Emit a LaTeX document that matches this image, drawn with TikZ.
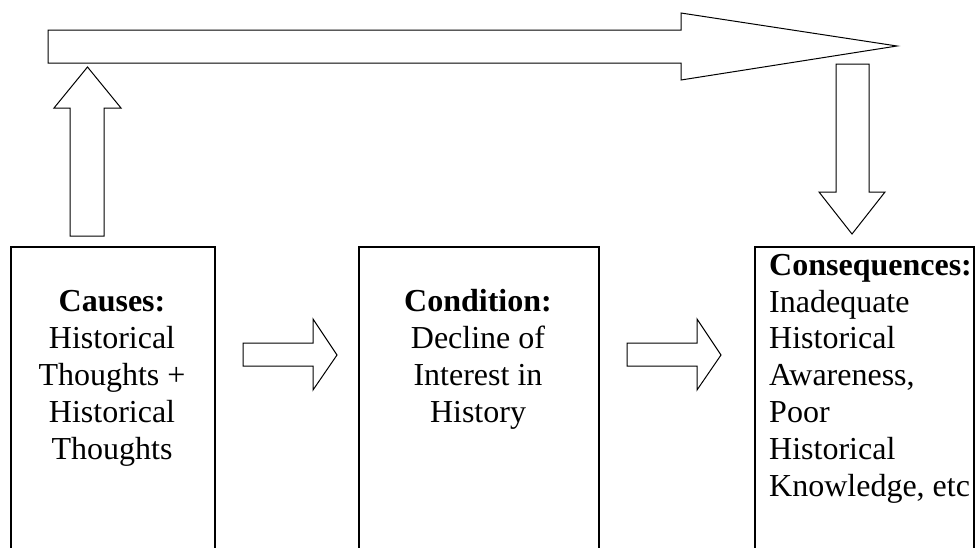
\documentclass[tikz,border=0pt]{standalone}
\usepackage{fontspec}
\setmainfont{Liberation Serif}
\begin{document}
\begin{tikzpicture}[x=1pt,y=-1pt,
  box/.style={draw, line width=1.5pt, inner sep=0pt, anchor=north west},
  blockarrow/.style={draw, line width=1pt, line join=miter, fill=white},
  txt/.style={inner sep=0pt, font=\fontsize{32}{36.8}\selectfont}]
\useasboundingbox (0,0) rectangle (980,547);
\clip (0,0) rectangle (980,547);
\fill[white] (0,0) rectangle (980,547);
% boxes
\node[box, minimum width=204pt, minimum height=320pt] (causesbox) at (10,246) {};
\node[box, minimum width=240pt, minimum height=320pt] (conditionbox) at (358,246) {};
\node[box, minimum width=219pt, minimum height=320pt] (consbox) at (754,246) {};
% texts (anchored at the baseline of their last line)
\node[txt, align=center, anchor=base] (causes) at (112,459)
  {\textbf{Causes:}\\Historical\\Thoughts +\\Historical\\Thoughts};
\node[txt, align=center, anchor=base] (condition) at (478,422)
  {\textbf{Condition:}\\Decline of\\Interest in\\History};
\node[txt, align=left, anchor=base west] (cons) at (769,496)
  {\textbf{Consequences:}\\Inadequate\\Historical\\Awareness,\\Poor\\Historical\\Knowledge, etc};
% block arrows
\draw[blockarrow] (48,30) -- (681,30) -- (681,13) -- (897,46) -- (681,80) -- (681,63) -- (48,63) -- cycle;
\draw[blockarrow] (70,236) -- (70,108) -- (54,108) -- (87.5,67) -- (121,108) -- (104,108) -- (104,236) -- cycle;
\draw[blockarrow] (836,64) -- (869,64) -- (869,192) -- (885,192) -- (852,234) -- (819,192) -- (836,192) -- cycle;
\draw[blockarrow] (243,343) -- (313,343) -- (313,319) -- (337,355) -- (313,390) -- (313,366) -- (243,366) -- cycle;
\draw[blockarrow] (627,343) -- (697,343) -- (697,319) -- (721,355) -- (697,390) -- (697,366) -- (627,366) -- cycle;
\end{tikzpicture}
\end{document}
